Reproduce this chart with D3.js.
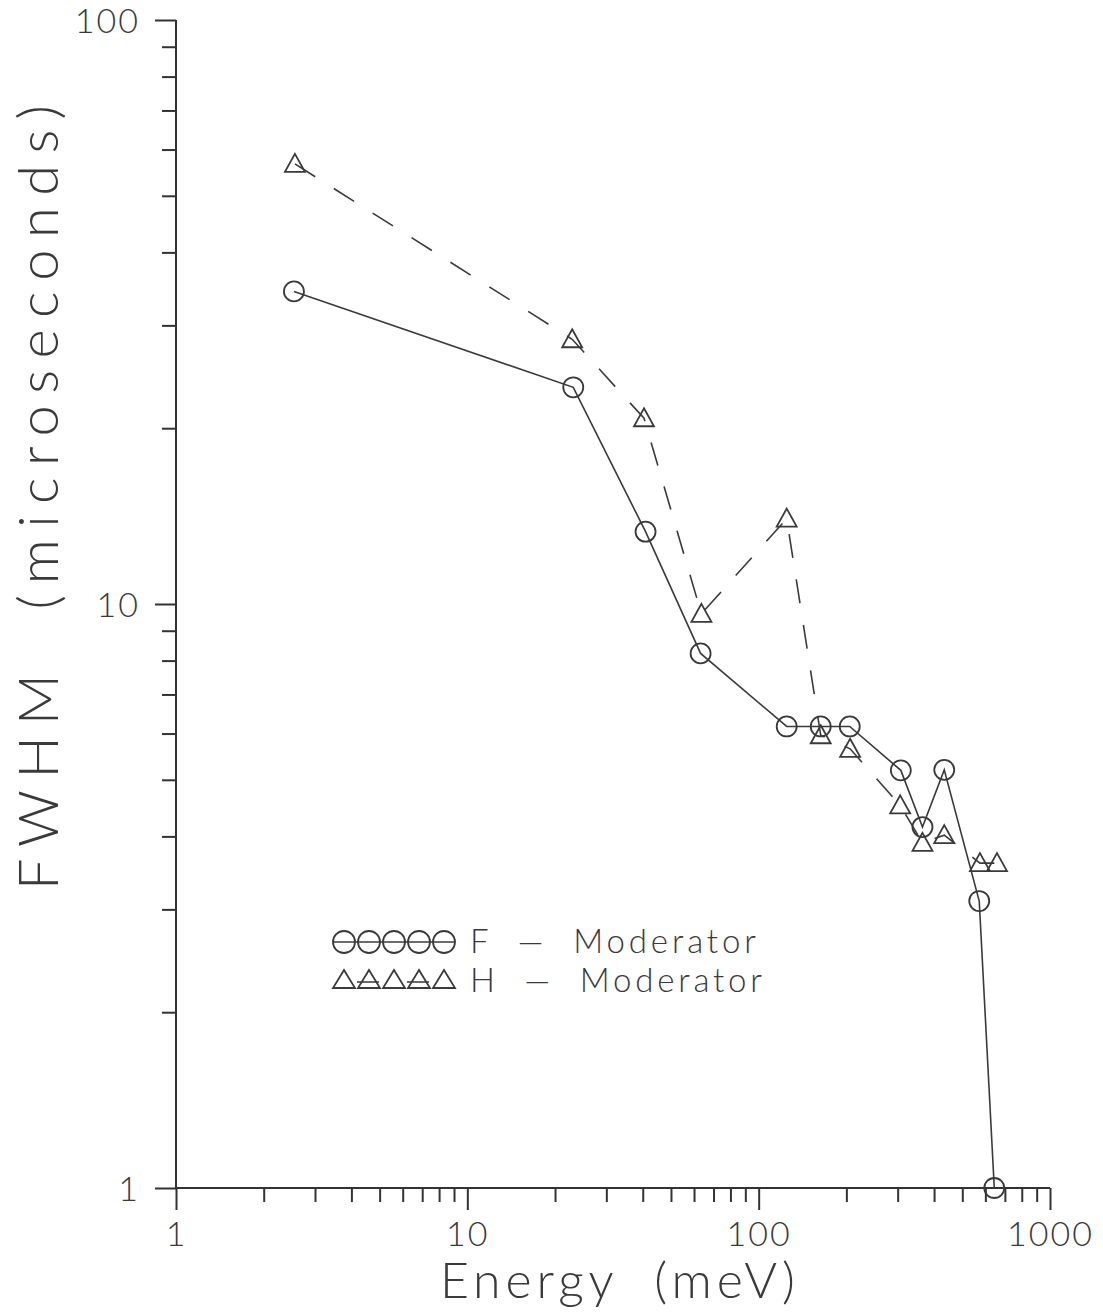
<!DOCTYPE html>
<html>
<head>
<meta charset="utf-8">
<script src="https://cdn.jsdelivr.net/npm/d3@7"></script>
<style>
    body { margin: 0; background: #fff; }
    text { font-family: Lato, "Open Sans", "DejaVu Sans", sans-serif; font-weight: 300; fill: #3a3a3a; }
</style>
</head>
<body>
<div id="chart"></div>
<script>
// F - Moderator (circles, solid line)
const energyF = [2.54, 23.1, 40.9, 63.2, 124.8, 163.3, 205.4, 307.6, 365, 433.5, 571.6, 643.8];
const fwhmF = [34.3, 23.5, 13.3, 8.23, 6.17, 6.17, 6.17, 5.19, 4.15, 5.20, 3.10, 1.0];
// H - Moderator (triangles, dashed line)
const energyH = [2.56, 22.9, 40.4, 63.6, 124.8, 163.3, 206, 306, 365, 433.5, 574.8, 657.7];
const fwhmH = [56.7, 28.4, 20.8, 9.62, 14.0, 5.96, 5.65, 4.52, 3.90, 4.02, 3.60, 3.60];

const xMajor = [1, 10, 100, 1000];
const yMajor = [1, 10, 100];
const seriesNames = ["F  \u2014  Moderator", "H  \u2014  Moderator"];

const W = 1103, H = 1312;
const svg = d3.select("#chart").append("svg")
    .attr("width", W)
    .attr("height", H);

const x = d3.scaleLog().domain([1, 1000]).range([176, 1050]);
const y = d3.scaleLog().domain([1, 100]).range([1188, 20]);

// minor ticks 2..9 of every decade
function minors(lo, hi) {
    let out = [];
    for (let d = lo; d < hi; d *= 10) {
        for (let k = 2; k <= 9; k++) out.push(d * k);
    }
    return out;
}

const axisColor = "#333";

// x axis
let gx = svg.append("g").attr("transform", "translate(0," + y(1) + ")");
gx.append("g")
    .call(d3.axisBottom(x).tickValues(minors(1, 1000)).tickSize(14).tickFormat(""));
gx.append("g")
    .call(d3.axisBottom(x).tickValues(xMajor).tickSize(22).tickPadding(12).tickFormat(d3.format("d")));

// y axis
let gy = svg.append("g").attr("transform", "translate(" + x(1) + ",0)");
gy.append("g")
    .call(d3.axisLeft(y).tickValues(minors(1, 100)).tickSize(14).tickFormat(""));
gy.append("g")
    .call(d3.axisLeft(y).tickValues(yMajor).tickSize(21).tickPadding(15).tickFormat(d3.format("d")));

svg.selectAll(".tick line").attr("stroke", axisColor).attr("stroke-width", 2);
svg.selectAll(".tick text")
    .style("font-size", "34px")
    .style("letter-spacing", "2px")
    .attr("fill", "#3a3a3a");
gy.selectAll(".tick text").attr("dy", "0.36em");

// plain domain lines without end caps
gx.selectAll(".domain").remove();
gy.selectAll(".domain").remove();
svg.append("line")
    .attr("x1", x(1)).attr("x2", x(1000))
    .attr("y1", y(1)).attr("y2", y(1))
    .attr("stroke", axisColor).attr("stroke-width", 2);
svg.append("line")
    .attr("x1", x(1)).attr("x2", x(1))
    .attr("y1", y(1)).attr("y2", y(100))
    .attr("stroke", axisColor).attr("stroke-width", 2);

// axis titles
svg.append("text")
    .attr("x", 440)
    .attr("y", 1298)
    .attr("textLength", 355)
    .attr("lengthAdjust", "spacing")
    .style("font-size", "50px")
    .style("white-space", "pre")
    .text("Energy  (meV)");

svg.append("text")
    .attr("transform", "translate(58,890) rotate(-90)")
    .attr("textLength", 785)
    .attr("lengthAdjust", "spacing")
    .style("font-size", "56px")
    .style("white-space", "pre")
    .text("FWHM  (microseconds)");

// data
const dataF = energyF.map((e, i) => ({e: e, f: fwhmF[i]}));
const dataH = energyH.map((e, i) => ({e: e, f: fwhmH[i]}));

const line = d3.line().x(d => x(d.e)).y(d => y(d.f));
const lineColor = "#3a3a3a";

svg.append("path")
    .datum(dataH)
    .attr("d", line)
    .attr("fill", "none")
    .attr("stroke", lineColor)
    .attr("stroke-width", 1.6)
    .attr("stroke-dasharray", "24,22");

svg.append("path")
    .datum(dataF)
    .attr("d", line)
    .attr("fill", "none")
    .attr("stroke", lineColor)
    .attr("stroke-width", 1.6);

const tri = "M0,-10L10,8L-10,8Z";

svg.append("g").selectAll("circle")
    .data(dataF)
    .enter()
    .append("circle")
    .attr("cx", d => x(d.e))
    .attr("cy", d => y(d.f))
    .attr("r", 10)
    .attr("fill", "none")
    .attr("stroke", lineColor)
    .attr("stroke-width", 1.8);

svg.append("g").selectAll("path")
    .data(dataH)
    .enter()
    .append("path")
    .attr("d", tri)
    .attr("transform", d => "translate(" + x(d.e) + "," + y(d.f) + ")")
    .attr("fill", "none")
    .attr("stroke", lineColor)
    .attr("stroke-width", 1.8);

// legend
let legend = svg.append("g");
let lx = d3.range(5).map(i => 344 + i * 25);

legend.append("line")
    .attr("x1", 333).attr("x2", 455)
    .attr("y1", 942).attr("y2", 942)
    .attr("stroke", lineColor).attr("stroke-width", 1.6);
legend.selectAll(".lc")
    .data(lx)
    .enter()
    .append("circle")
    .attr("cx", d => d)
    .attr("cy", 942)
    .attr("r", 11)
    .attr("fill", "none")
    .attr("stroke", lineColor)
    .attr("stroke-width", 1.8);

legend.append("line")
    .attr("x1", 357).attr("x2", 444)
    .attr("y1", 982).attr("y2", 982)
    .attr("stroke", lineColor).attr("stroke-width", 1.6)
    .attr("stroke-dasharray", "22,28");
legend.selectAll(".lt")
    .data(lx)
    .enter()
    .append("path")
    .attr("d", "M0,-10L11,8L-11,8Z")
    .attr("transform", d => "translate(" + d + ",980)")
    .attr("fill", "none")
    .attr("stroke", lineColor)
    .attr("stroke-width", 1.8);

legend.selectAll(".ltext")
    .data(seriesNames)
    .enter()
    .append("text")
    .attr("x", 470)
    .attr("y", (d, i) => i === 0 ? 953 : 992)
    .attr("textLength", (d, i) => i === 0 ? 286 : 292)
    .attr("lengthAdjust", "spacing")
    .style("font-size", "33px")
    .style("white-space", "pre")
    .text(d => d);
</script>
</body>
</html>
